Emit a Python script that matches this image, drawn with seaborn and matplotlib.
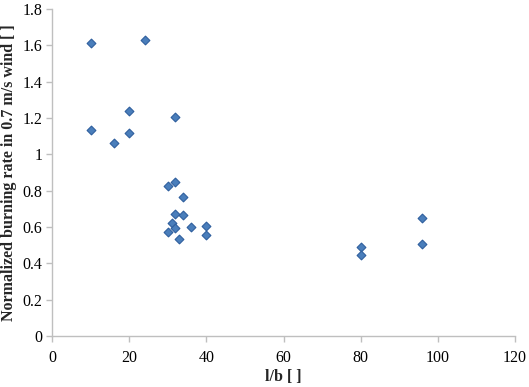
import matplotlib
matplotlib.use("Agg")
import matplotlib.pyplot as plt
import seaborn as sns
import pandas as pd

# values
lb = [10, 24, 20, 32, 10, 20, 16,
      30, 32, 34, 32, 34, 31, 32, 30, 36, 40, 40, 33,
      80, 80, 96, 96]
rate = [1.614, 1.629, 1.237, 1.205, 1.134, 1.117, 1.064,
        0.827, 0.849, 0.767, 0.670, 0.666, 0.624, 0.596, 0.571, 0.600, 0.605, 0.556, 0.536,
        0.490, 0.445, 0.650, 0.505]

x_ticks = [0, 20, 40, 60, 80, 100, 120]
y_ticks = [0, 0.2, 0.4, 0.6, 0.8, 1.0, 1.2, 1.4, 1.6, 1.8]
y_labels = ["0", "0.2", "0.4", "0.6", "0.8", "1", "1.2", "1.4", "1.6", "1.8"]

df = pd.DataFrame({"lb": lb, "rate": rate})

sns.set_style("white")
plt.rcParams["font.family"] = ["Liberation Serif", "DejaVu Serif"]

fig = plt.figure(figsize=(5.29, 3.87), dpi=100)
ax = fig.add_axes([52 / 529, 51 / 387, 463 / 529, 327 / 387])

sns.scatterplot(data=df, x="lb", y="rate", marker="D", s=20,
                color="#4a7ebb", edgecolor="#2f5f9e", linewidth=0.8, ax=ax)

ax.set_xlim(0, 120)
ax.set_ylim(0, 1.8)
ax.set_xticks(x_ticks)
ax.set_yticks(y_ticks)
ax.set_yticklabels(y_labels)

for side in ["top", "right"]:
    ax.spines[side].set_visible(False)
for side in ["left", "bottom"]:
    ax.spines[side].set_color("#bfbfbf")
    ax.spines[side].set_linewidth(1.0)

ax.tick_params(axis="both", which="major", direction="out", length=4,
               width=1.0, color="#bfbfbf", labelsize=11.5, labelcolor="black",
               bottom=True, left=True, pad=3)
ax.tick_params(axis="x", pad=6)

ax.set_xlabel("l/b [ ]", fontsize=11.5, fontweight="bold", labelpad=2)
ax.set_ylabel("Normalized burning rate in 0.7 m/s wind [ ]", fontsize=11.5,
              fontweight="bold", labelpad=4)

fig.savefig("out.png", dpi=100)
